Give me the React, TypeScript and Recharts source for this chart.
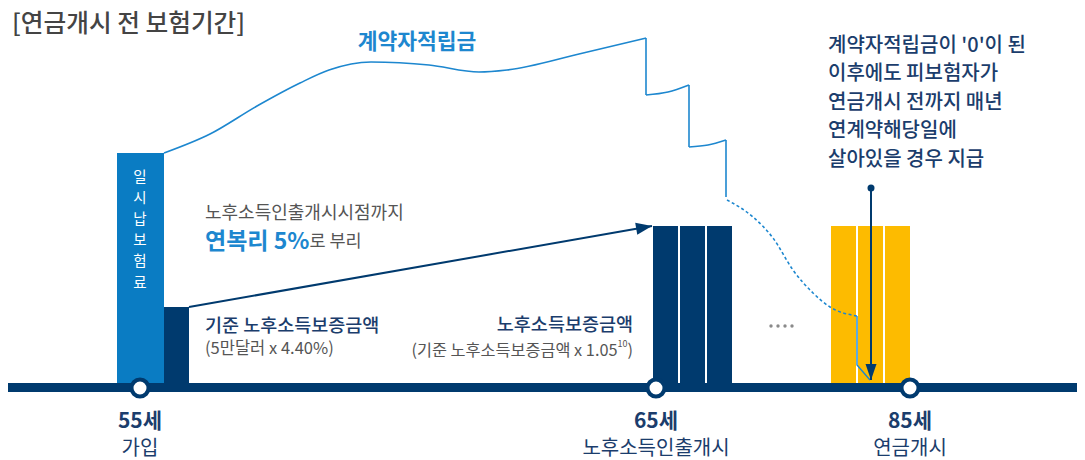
import React from 'react';
import { ComposedChart, XAxis, YAxis, Line, ReferenceArea, ReferenceLine, ReferenceDot } from 'recharts';

// ---------- data (x: timeline position units, y: height above the timeline) ----------
const stageAges = ['55세', '65세', '85세'];
const stageNames = ['가입', '노후소득인출개시', '연금개시'];
const stageX = [140, 656, 910];

const premiumBar = [117, 164, 232]; // x1, x2, top
const baseGuaranteeBar = [164, 189, 78];
const guaranteeBars = [[653, 678, 159], [680, 705, 159], [707, 732, 159]];
const annuityBars = [[831, 856, 159], [858, 883, 159], [885, 910, 159]];

// 계약자적립금 path pieces
const reserveRise = [[164, 232], [210, 251], [257, 279], [300, 302], [329, 315], [371, 323], [429, 320], [479, 313], [507, 315], [579, 331], [646, 347]];
const reserveStep1 = [[646, 290], [668, 293], [689, 300]];
const reserveStep2 = [[689, 238], [708, 240], [726, 245]];
const reserveDrops = [
  [[646, 347], [646, 290]],
  [[689, 300], [689, 238]],
  [[726, 245], [726, 188]],
];
const reserveFade = [[727, 185], [753, 168], [773, 147], [793, 115], [813, 92], [830, 78], [857, 69]];
const reserveEnd = [[857, 69], [857, 20], [870, 5]];

const growthArrow = [[189, 78], [652, 159]];
const payArrow = [[871, 197], [871, 5]];
const ellipsisDots = [771, 778, 785, 792];

const titleText = '[연금개시 전 보험기간]';
const reserveLabel = '계약자적립금';
const premiumLabel = ['일', '시', '납', '보', '험', '료'];
const rateLine1 = '노후소득인출개시시점까지';
const rateStrong = '연복리 5%';
const rateRest = '로 부리';
const baseTitle = '기준 노후소득보증금액';
const baseSub = '(5만달러 x 4.40%)';
const guarTitle = '노후소득보증금액';
const guarSub = '(기준 노후소득보증금액 x 1.05';
const guarSup = '10';
const noteLines = ["계약자적립금이 '0'이 된", '이후에도 피보험자가', '연금개시 전까지 매년', '연계약해당일에', '살아있을 경우 지급'];

// ---------- layout / style ----------
const W = 1085;
const H = 460;
const BASE = 385;
const NAVY = '#003a6e';
const NAVY_TEXT = '#1b3d6c';
const BLUE = '#0a7cc3';
const LINE_BLUE = '#1d87cf';
const YELLOW = '#fdbb00';
const GRAY = '#555555';
const FONT = '"Noto Sans CJK KR", "Noto Sans", sans-serif';

const pts = (a: number[][]) => a.map(([x, y]) => ({ x, y }));
const noDot = (p: any) => <g key={`n${p.index}`} />;

const arrowDot = (segment: number[][], len: number, half: number, startDot: boolean) => {
  const [[x1, y1], [x2, y2]] = segment;
  const ang = (Math.atan2(-(y2 - y1), x2 - x1) * 180) / Math.PI;
  return (p: any) => {
    if (p.index === 1) {
      return (
        <polygon
          key={`a${p.index}`}
          points={`0,0 ${-len},${-half} ${-len},${half}`}
          transform={`translate(${p.cx},${p.cy}) rotate(${ang})`}
          fill={NAVY}
        />
      );
    }
    if (startDot) return <circle key={`a${p.index}`} cx={p.cx} cy={p.cy} r={3.5} fill={NAVY} />;
    return <g key={`a${p.index}`} />;
  };
};

const textAt = (x: number, y: number, render: (cx: number, cy: number) => React.ReactNode, key: string) => (
  <ReferenceDot key={key} x={x} y={y} r={0} ifOverflow="visible" shape={(p: any) => <g>{render(p.cx, p.cy)}</g>} />
);

export default function App() {
  const yv = (py: number) => BASE - py; // helper for label placement
  return (
    <div style={{ position: 'absolute', left: 0, top: 0, width: W, height: H, background: '#fff' }}>
      <ComposedChart width={W} height={H} margin={{ top: 0, right: 0, bottom: 0, left: 0 }} data={[]}>
        <XAxis type="number" dataKey="x" domain={[0, W]} hide allowDataOverflow />
        <YAxis type="number" dataKey="y" domain={[BASE - H, BASE]} hide allowDataOverflow />

        <ReferenceArea x1={premiumBar[0]} x2={premiumBar[1]} y1={-3} y2={premiumBar[2]} fill={BLUE} fillOpacity={1} stroke="none" />
        <ReferenceArea x1={baseGuaranteeBar[0]} x2={baseGuaranteeBar[1]} y1={-3} y2={baseGuaranteeBar[2]} fill={NAVY} fillOpacity={1} stroke="none" />
        {guaranteeBars.map((b, i) => (
          <ReferenceArea key={`g${i}`} x1={b[0]} x2={b[1]} y1={-3} y2={b[2]} fill={NAVY} fillOpacity={1} stroke="none" />
        ))}
        {annuityBars.map((b, i) => (
          <ReferenceArea key={`y${i}`} x1={b[0]} x2={b[1]} y1={-3} y2={b[2]} fill={YELLOW} fillOpacity={1} stroke="none" />
        ))}

        <ReferenceLine segment={[{ x: 8, y: -2.5 }, { x: 1077, y: -2.5 }]} stroke={NAVY} strokeWidth={9} />

        <Line data={pts(reserveRise)} dataKey="y" type="monotone" stroke={LINE_BLUE} strokeWidth={1.6} dot={noDot} activeDot={false} isAnimationActive={false} />
        <Line data={pts(reserveStep1)} dataKey="y" type="monotone" stroke={LINE_BLUE} strokeWidth={1.6} dot={noDot} activeDot={false} isAnimationActive={false} />
        <Line data={pts(reserveStep2)} dataKey="y" type="monotone" stroke={LINE_BLUE} strokeWidth={1.6} dot={noDot} activeDot={false} isAnimationActive={false} />
        {reserveDrops.map((d, i) => (
          <Line key={`d${i}`} data={pts(d)} dataKey="y" type="linear" stroke={LINE_BLUE} strokeWidth={1.6} dot={noDot} activeDot={false} isAnimationActive={false} />
        ))}
        <Line data={pts(reserveFade)} dataKey="y" type="monotone" stroke={LINE_BLUE} strokeWidth={1.6} strokeDasharray="3 2.5" dot={noDot} activeDot={false} isAnimationActive={false} />
        <Line data={pts(reserveEnd)} dataKey="y" type="linear" stroke={LINE_BLUE} strokeWidth={1.4} dot={noDot} activeDot={false} isAnimationActive={false} />

        <Line data={pts(growthArrow)} dataKey="y" type="linear" stroke={NAVY} strokeWidth={2} dot={arrowDot(growthArrow, 16, 6, false)} activeDot={false} isAnimationActive={false} />
        <Line data={pts(payArrow)} dataKey="y" type="linear" stroke={NAVY} strokeWidth={2} dot={arrowDot(payArrow, 16, 5.5, true)} activeDot={false} isAnimationActive={false} />

        {ellipsisDots.map((x, i) => (
          <ReferenceDot key={`e${i}`} x={x} y={yv(326)} r={1.7} fill="#8a8a8a" stroke="none" />
        ))}

        {stageX.map((x, i) => (
          <ReferenceDot key={`c${i}`} x={x} y={-3} r={8.5} fill="#fff" stroke={NAVY} strokeWidth={4} />
        ))}

        {textAt(12, yv(21), (cx, cy) => (
          <text x={cx} y={cy} dominantBaseline="central" fontFamily={FONT} fontSize={24.7} fontWeight={500} fill="#444">{titleText}</text>
        ), 't0')}

        {textAt(417, yv(39), (cx, cy) => (
          <text x={cx} y={cy} textAnchor="middle" dominantBaseline="central" fontFamily={FONT} fontSize={21.5} fontWeight={700} fill={LINE_BLUE}>{reserveLabel}</text>
        ), 't1')}

        {premiumLabel.map((c, i) => textAt(140, yv(175 + i * 21.2), (cx, cy) => (
          <text x={cx} y={cy} textAnchor="middle" dominantBaseline="central" fontFamily={FONT} fontSize={14.5} fill="#fff">{c}</text>
        ), `p${i}`))}

        {textAt(205, yv(211), (cx, cy) => (
          <text x={cx} y={cy} dominantBaseline="central" fontFamily={FONT} fontSize={18} fill={GRAY}>{rateLine1}</text>
        ), 't3')}
        {textAt(205, yv(239), (cx, cy) => (
          <text x={cx} y={cy} dominantBaseline="central" fontFamily={FONT} fill={GRAY}>
            <tspan fontSize={23} fontWeight={700} fill={LINE_BLUE}>{rateStrong}</tspan>
            <tspan fontSize={17.5}>{rateRest}</tspan>
          </text>
        ), 't4')}

        {textAt(205, yv(324), (cx, cy) => (
          <text x={cx} y={cy} dominantBaseline="central" fontFamily={FONT} fontSize={18.5} fontWeight={500} fill={NAVY_TEXT}>{baseTitle}</text>
        ), 't5')}
        {textAt(205, yv(347), (cx, cy) => (
          <text x={cx} y={cy} dominantBaseline="central" fontFamily={FONT} fontSize={16.5} fill={GRAY}>{baseSub}</text>
        ), 't6')}

        {textAt(633, yv(323), (cx, cy) => (
          <text x={cx} y={cy} textAnchor="end" dominantBaseline="central" fontFamily={FONT} fontSize={18.5} fontWeight={500} fill={NAVY_TEXT}>{guarTitle}</text>
        ), 't7')}
        {textAt(633, yv(349), (cx, cy) => (
          <text x={cx} y={cy} textAnchor="end" dominantBaseline="central" fontFamily={FONT} fontSize={16.3} fill={GRAY}>
            {guarSub}
            <tspan fontSize={9} dy={-6}>{guarSup}</tspan>
            <tspan dy={6}>)</tspan>
          </text>
        ), 't8')}

        {noteLines.map((l, i) => textAt(828, yv(43 + i * 28.5), (cx, cy) => (
          <text x={cx} y={cy} dominantBaseline="central" fontFamily={FONT} fontSize={20} fontWeight={500} fill={NAVY_TEXT}>{l}</text>
        ), `n${i}`))}

        {stageX.map((x, i) => textAt(x, yv(419), (cx, cy) => (
          <text x={cx} y={cy} textAnchor="middle" dominantBaseline="central" fontFamily={FONT} fontSize={21} fontWeight={700} fill={NAVY_TEXT}>{stageAges[i]}</text>
        ), `sa${i}`))}
        {stageX.map((x, i) => textAt(x, yv(446), (cx, cy) => (
          <text x={cx} y={cy} textAnchor="middle" dominantBaseline="central" fontFamily={FONT} fontSize={20} fill={NAVY_TEXT}>{stageNames[i]}</text>
        ), `sn${i}`))}
      </ComposedChart>
    </div>
  );
}
